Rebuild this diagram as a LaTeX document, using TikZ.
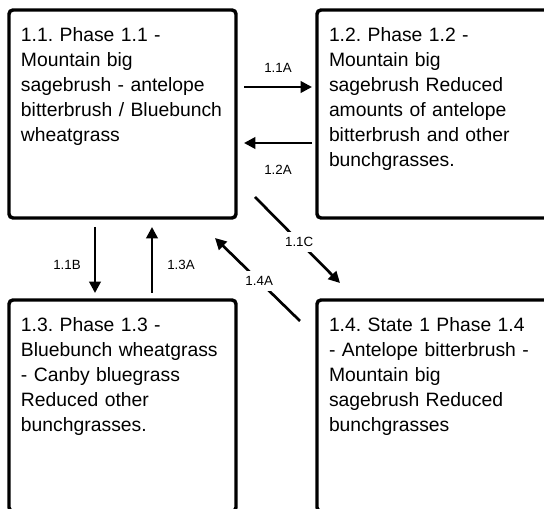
\documentclass[tikz,border=0pt]{standalone}
\usepackage{fontspec}
\setmainfont{Liberation Sans}
\frenchspacing
\usetikzlibrary{arrows.meta,calc}

\begin{document}
\begin{tikzpicture}[x=0.75pt, y=-0.75pt,
  phase/.style={draw, line width=2.6pt, rounded corners=3pt, anchor=north west, outer sep=0pt,
    inner xsep=9pt, inner ysep=13.5pt, text width=152.25pt, align=left,
    text height=10.5pt, text depth=118.5pt, font=\fontsize{14.5}{18.75}\selectfont},
  trans/.style={line width=2pt, -{Triangle[length=8.5pt,width=8.5pt]}},
  lbl/.style={font=\fontsize{10}{12}\selectfont, inner sep=4pt}]

\useasboundingbox (0,0) rectangle (544,509);

\node[phase] (p11) at (9,10) {1.1. Phase 1.1 -\\Mountain big\\sagebrush - antelope\\bitterbrush / Bluebunch\\wheatgrass};
\node[phase, text width=165pt] (p12) at (317,10) {1.2. Phase 1.2 -\\Mountain big\\sagebrush Reduced\\amounts of antelope\\bitterbrush and other\\bunchgrasses.};
\node[phase, text depth=121pt] (p13) at (9,300) {1.3. Phase 1.3 -\\Bluebunch wheatgrass\\- Canby bluegrass\\Reduced other\\bunchgrasses.};
\node[phase, text depth=121pt, text width=165pt] (p14) at (317,300) {1.4. State 1 Phase 1.4\\- Antelope bitterbrush -\\Mountain big\\sagebrush Reduced\\bunchgrasses};

\draw[trans] ($(p11.east)+(8,-27)$) -- ($(p12.west)+(-5,-27)$) node[lbl, midway, yshift=14.25pt] {1.1A};
\draw[trans] ($(p12.west)+(-5,29)$) -- ($(p11.east)+(8,29)$) node[lbl, midway, yshift=-20.25pt] {1.2A};

\draw[trans] ($(p11.south)+(-27.5,9)$) -- ($(p13.north)+(-27.5,-7)$) node[lbl, midway, xshift=-21pt, yshift=-3.75pt] {1.1B};
\draw[trans] ($(p13.north)+(29.5,-7)$) -- ($(p11.south)+(29.5,9)$) node[lbl, midway, xshift=21.75pt, yshift=-3.75pt] {1.3A};

\draw[trans] ($(p11.south east)+(19,-21)$) -- ($(p14.north west)+(23,-17)$) node[lbl, fill=white, pos=0.52] {1.1C};
\draw[trans] ($(p14.north west)+(-17,21)$) -- ($(p11.south east)+(-21,20)$) node[lbl, fill=white, pos=0.48] {1.4A};

\end{tikzpicture}
\end{document}
